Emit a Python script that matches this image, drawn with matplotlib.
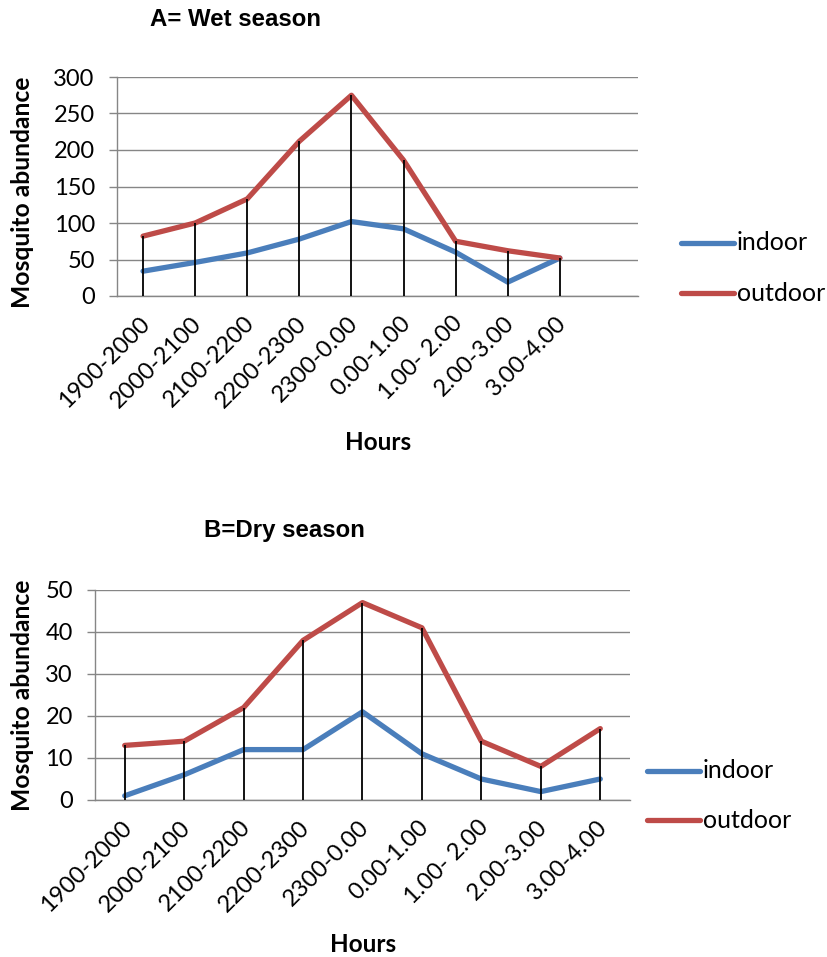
import matplotlib
matplotlib.use("Agg")
import matplotlib.pyplot as plt
import matplotlib.transforms as mtransforms
import numpy as np

hours = ["1900-2000", "2000-2100", "2100-2200", "2200-2300", "2300-0.00",
         "0.00-1.00", "1.00- 2.00", "2.00-3.00", "3.00-4.00"]

wet_indoor = [34, 46, 59, 78, 102, 92, 60, 19, 52]
wet_outdoor = [82, 100, 133, 212, 275, 186, 75, 62, 52]
dry_indoor = [1, 6, 12, 12, 21, 11, 5, 2, 5]
dry_outdoor = [13, 14, 22, 38, 47, 41, 14, 8, 17]

wet_yticks = [0, 50, 100, 150, 200, 250, 300]
dry_yticks = [0, 10, 20, 30, 40, 50]

BLUE = "#4A7EBB"
RED = "#BE4B48"
GRID = "#868686"

W, H = 828, 957
fig = plt.figure(figsize=(W / 100, H / 100), dpi=100)


def box(x0, y0, x1, y1):
    return [x0 / W, 1 - y1 / H, (x1 - x0) / W, (y1 - y0) / H]


def panel(rect, indoor, outdoor, yticks, nslots, title, title_xy, ylab_xy, hours_xy, leg_x, leg_y):
    ax = fig.add_axes(rect)
    x = np.arange(len(hours))
    ax.plot(x, indoor, color=BLUE, lw=3.8, solid_capstyle="round", zorder=3)
    ax.plot(x, outdoor, color=RED, lw=3.8, solid_capstyle="round", zorder=3)
    tops = np.maximum(indoor, outdoor)
    ax.vlines(x, 0, tops, color="black", lw=1.3, zorder=4)
    ax.set_xlim(-0.5, nslots - 0.5)
    ax.set_ylim(yticks[0], yticks[-1])
    ax.set_yticks(yticks)
    ax.set_yticklabels([str(v) for v in yticks], fontfamily="Lato", fontsize=17)
    ax.set_xticks(x)
    ax.set_xticklabels(hours, rotation=45, ha="right", va="top",
                       rotation_mode="anchor", fontfamily="Lato", fontsize=17)
    ax.tick_params(axis="x", length=0, pad=12)
    ax.tick_params(axis="y", length=6, width=1, color=GRID, pad=10)
    offset = mtransforms.ScaledTranslation(-4 / 100, 0, fig.dpi_scale_trans)
    for lbl in ax.get_xticklabels():
        lbl.set_transform(lbl.get_transform() + offset)
    ax.yaxis.grid(True, color=GRID, lw=1)
    ax.set_axisbelow(True)
    for s in ["top", "right"]:
        ax.spines[s].set_visible(False)
    for s in ["left", "bottom"]:
        ax.spines[s].set_color(GRID)
        ax.spines[s].set_linewidth(1)
    fig.text(title_xy[0] / W, 1 - title_xy[1] / H, title, ha="center", va="center",
             fontfamily="Liberation Sans", fontweight="bold", fontsize=17.3)
    fig.text(ylab_xy[0] / W, 1 - ylab_xy[1] / H, "Mosquito abundance", rotation=90,
             ha="center", va="center", fontfamily="Lato", fontweight="bold", fontsize=17.7)
    fig.text(hours_xy[0] / W, 1 - hours_xy[1] / H, "Hours", ha="center", va="center",
             fontfamily="Lato", fontweight="bold", fontsize=17.5)
    for lab, col, yy in [("indoor", BLUE, leg_y[0]), ("outdoor", RED, leg_y[1])]:
        fig.add_artist(plt.Line2D([leg_x[0] / W, leg_x[1] / W], [1 - yy / H, 1 - yy / H],
                                  color=col, lw=3.8, solid_capstyle="round"))
        fig.text(leg_x[1] / W + 3 / W, 1 - yy / H, lab, ha="left", va="center",
                 fontfamily="Lato", fontsize=18)
    return ax


panel(box(117, 77, 638, 296), wet_indoor, wet_outdoor, wet_yticks, 10,
      "A= Wet season", (236, 19), (23, 192), (378, 443), (681, 734), (243, 293))
panel(box(95, 590, 630, 800), dry_indoor, dry_outdoor, dry_yticks, 9,
      "B=Dry season", (284, 530), (23, 695), (363, 945), (647, 700), (771, 820))

fig.savefig("out.png", dpi=100)
